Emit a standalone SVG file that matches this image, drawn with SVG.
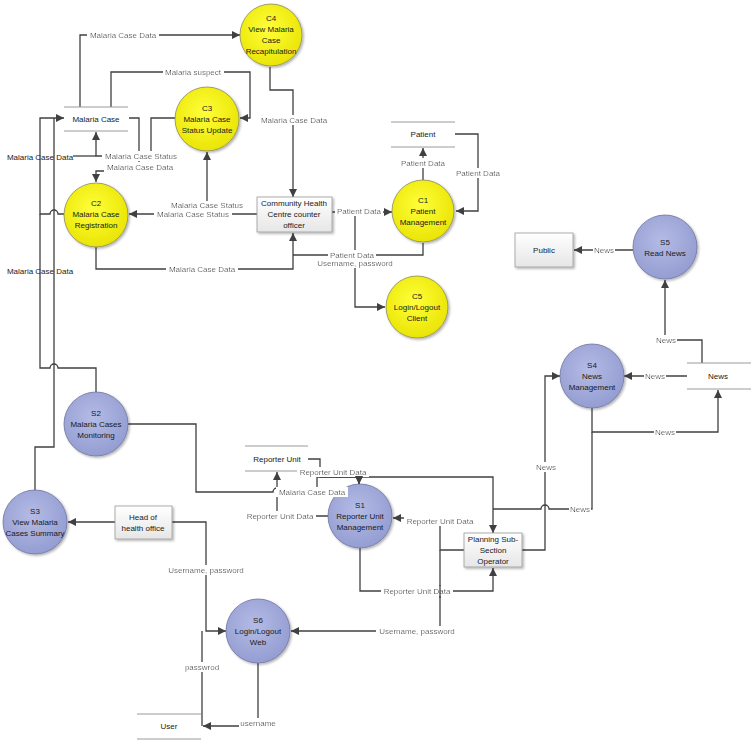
<svg xmlns="http://www.w3.org/2000/svg" width="755" height="744" viewBox="0 0 755 744">
<defs>
<radialGradient id="gy" cx="45%" cy="40%" r="65%"><stop offset="0" stop-color="#ffff3a"/><stop offset="1" stop-color="#e8e200"/></radialGradient>
<radialGradient id="gb" cx="45%" cy="40%" r="65%"><stop offset="0" stop-color="#b4bbe6"/><stop offset="1" stop-color="#929bd0"/></radialGradient>
<linearGradient id="gr" x1="0" y1="0" x2="0" y2="1"><stop offset="0" stop-color="#ffffff"/><stop offset="1" stop-color="#e6e6e6"/></linearGradient>
<filter id="sh" x="-20%" y="-20%" width="150%" height="150%"><feDropShadow dx="1.5" dy="1.5" stdDeviation="1.2" flood-color="#000" flood-opacity="0.3"/></filter>
<filter id="bg" x="-0.03" y="0.05" width="1.06" height="0.95"><feFlood flood-color="#ffffff"/><feComposite in="SourceGraphic"/></filter>
<marker id="ah" viewBox="0 0 10 10" refX="10" refY="5" markerWidth="9" markerHeight="8" markerUnits="userSpaceOnUse" orient="auto"><path d="M0,0 L10,5 L0,10 z" fill="#404040"/></marker>
</defs>
<style>
text{font-family:"Liberation Sans",Arial,sans-serif;font-size:8px;fill:#222;text-anchor:middle;dominant-baseline:central}
.c{fill:none;stroke:#404040;stroke-width:1.3}
.a{marker-end:url(#ah)}
.lb{filter:url(#bg)}
.y{fill:url(#gy);stroke:#8a8a60;stroke-width:0.8;filter:url(#sh)}
.b{fill:url(#gb);stroke:#6f75a0;stroke-width:0.8;filter:url(#sh)}
.r{fill:url(#gr);stroke:#9a9a9a;stroke-width:0.8;filter:url(#sh)}
.s{stroke:#9a9a9a;stroke-width:1}
.n{fill:#1a1a1a}
</style>
<rect width="755" height="744" fill="#ffffff"/>

<g id="connectors">
<path class="c a" d="M80,107 V35 H240"/>
<path class="c a" d="M111,107 V72 H250 V118 H240"/>
<path class="c a" d="M270,67 V90 H293 V197"/>
<path class="c a" d="M129,118 H139 V171 H96 V182"/>
<path class="c a" d="M176,118 H151 V156 H96 V132"/>
<path class="c" d="M96,156 H73"/>
<path class="c a" d="M257,214 H129"/>
<path class="c a" d="M207,214 V152"/>
<path class="c a" d="M96,247 V269 H293 V233"/>
<path class="c a" d="M332,212 H392"/>
<path class="c a" d="M355,212 V307 H385"/>
<path class="c" d="M423,243 V255 H293"/>
<path class="c a" d="M423,180 V148"/>
<path class="c a" d="M455,134 H478 V211 H456"/>
<path class="c a" d="M633,250 H574"/>
<path class="c a" d="M702,363 V340 H665 V280"/>
<path class="c a" d="M687,376 H624"/>
<path class="c a" d="M592,408 V432 H718 V390"/>
<path class="c" d="M592,432 V509 H549 A4,4 0 0 0 541,509 H493"/>
<path class="c a" d="M522,550 H545 V376 H560"/>
<path class="c a" d="M308,459 H320 V477 H359 V484"/>
<path class="c a" d="M128,424 H196 V492 H273 A4,4 0 0 1 281,492 H317 V477 H493 V533"/>
<path class="c a" d="M328,516 H277 V472"/>
<path class="c a" d="M464,550 H440 V518 H393"/>
<path class="c a" d="M440,550 V631 H291"/>
<path class="c a" d="M360,548 V591 H493 V568"/>
<path class="c a" d="M115,522 H68"/>
<path class="c a" d="M172,522 H206 V631 H226"/>
<path class="c" d="M202,726 V631"/>
<path class="c a" d="M258,663 V726 H203"/>
<path class="c a" d="M64,214 H58 A4,4 0 0 0 50,214 H40 V118 H64"/>
<path class="c" d="M96,392 V368 H58 A4,4 0 0 0 50,368 H40 V214"/>
<path class="c" d="M35,491 V447 H54 V118"/>
</g>

<g id="store-malaria-case">
<line class="s" x1="64" y1="107" x2="128" y2="107"/><line class="s" x1="64" y1="131" x2="128" y2="131"/>
<text x="96" y="119">Malaria Case</text>
</g>
<g id="store-patient">
<line class="s" x1="391" y1="122" x2="455" y2="122"/><line class="s" x1="391" y1="147" x2="455" y2="147"/>
<text x="423" y="134">Patient</text>
</g>
<g id="store-news">
<line class="s" x1="687" y1="363" x2="751" y2="363"/><line class="s" x1="687" y1="389" x2="751" y2="389"/>
<text x="718" y="376">News</text>
</g>
<g id="store-reporter-unit">
<line class="s" x1="245" y1="446" x2="308" y2="446"/><line class="s" x1="245" y1="471" x2="308" y2="471"/>
<text x="277" y="459">Reporter Unit</text>
</g>
<g id="store-user">
<line class="s" x1="137" y1="714" x2="201" y2="714"/><line class="s" x1="137" y1="739" x2="201" y2="739"/>
<text x="169" y="726">User</text>
</g>

<g id="C4"><circle class="y" cx="271" cy="35" r="31"/>
<text class="n" x="271" y="18">C4</text><text class="n" x="271" y="29">View Malaria</text><text class="n" x="271" y="40">Case</text><text class="n" x="271" y="51">Recapitulation</text></g>
<g id="C3"><circle class="y" cx="207" cy="119" r="32"/>
<text class="n" x="207" y="108">C3</text><text class="n" x="207" y="119">Malaria Case</text><text class="n" x="207" y="130">Status Update</text></g>
<g id="C2"><circle class="y" cx="96" cy="215" r="32"/>
<text class="n" x="96" y="203">C2</text><text class="n" x="96" y="214">Malaria Case</text><text class="n" x="96" y="225">Registration</text></g>
<g id="C1"><circle class="y" cx="423" cy="211" r="31"/>
<text class="n" x="423" y="200">C1</text><text class="n" x="423" y="211">Patient</text><text class="n" x="423" y="222">Management</text></g>
<g id="C5"><circle class="y" cx="417" cy="307" r="31"/>
<text class="n" x="417" y="296">C5</text><text class="n" x="417" y="307">Login/Logout</text><text class="n" x="417" y="318">Client</text></g>
<g id="S5"><circle class="b" cx="665" cy="247" r="32"/>
<text class="n" x="665" y="242">S5</text><text class="n" x="665" y="253">Read News</text></g>
<g id="S4"><circle class="b" cx="592" cy="376" r="32"/>
<text class="n" x="592" y="365">S4</text><text class="n" x="592" y="376">News</text><text class="n" x="592" y="387">Management</text></g>
<g id="S2"><circle class="b" cx="96" cy="424" r="32"/>
<text class="n" x="96" y="413">S2</text><text class="n" x="96" y="424">Malaria Cases</text><text class="n" x="96" y="435">Monitoring</text></g>
<g id="S3"><circle class="b" cx="35" cy="522" r="32"/>
<text class="n" x="35" y="511">S3</text><text class="n" x="35" y="522">View Malaria</text><text class="n" x="35" y="533">Cases Summary</text></g>
<g id="S1"><circle class="b" cx="360" cy="516" r="32"/>
<text class="n" x="360" y="505">S1</text><text class="n" x="360" y="516">Reporter Unit</text><text class="n" x="360" y="527">Management</text></g>
<g id="S6"><circle class="b" cx="258" cy="631" r="32"/>
<text class="n" x="258" y="620">S6</text><text class="n" x="258" y="631">Login/Logout</text><text class="n" x="258" y="642">Web</text></g>

<g id="CHC"><rect class="r" x="257" y="197" width="75" height="35"/>
<text class="n" x="294" y="203">Community Health</text><text class="n" x="294" y="214">Centre counter</text><text class="n" x="294" y="225">officer</text></g>
<g id="Public"><rect class="r" x="515" y="233" width="58" height="34"/>
<text class="n" x="544" y="250">Public</text></g>
<g id="HeadOffice"><rect class="r" x="115" y="506" width="57" height="33"/>
<text class="n" x="143" y="517">Head of</text><text class="n" x="143" y="528">health office</text></g>
<g id="Planning"><rect class="r" x="464" y="533" width="58" height="34"/>
<text class="n" x="493" y="539">Planning Sub-</text><text class="n" x="493" y="550">Section</text><text class="n" x="493" y="561">Operator</text></g>

<g id="connector-labels">
<text x="40" y="157">Malaria Case Data</text>
<text x="40" y="271">Malaria Case Data</text>
<text class="lb" x="123" y="35">Malaria Case Data</text>
<text class="lb" x="193" y="72">Malaria suspect</text>
<text class="lb" x="294" y="120">Malaria Case Data</text>
<text class="lb" x="141" y="156">Malaria Case Status</text>
<text class="lb" x="140" y="167">Malaria Case Data</text>
<text class="lb" x="207" y="205.5">Malaria Case Status</text>
<text class="lb" x="193" y="214.5">Malaria Case Status</text>
<text class="lb" x="202" y="269">Malaria Case Data</text>
<text class="lb" x="359" y="211">Patient Data</text>
<text class="lb" x="352" y="255">Patient Data</text>
<text class="lb" x="355" y="263.5">Username, password</text>
<text class="lb" x="423" y="163">Patient Data</text>
<text class="lb" x="478" y="173">Patient Data</text>
<text class="lb" x="604" y="250">News</text>
<text class="lb" x="666" y="340">News</text>
<text class="lb" x="655" y="376">News</text>
<text class="lb" x="665" y="432">News</text>
<text class="lb" x="580" y="509">News</text>
<text class="lb" x="546" y="467">News</text>
<text class="lb" x="333" y="472">Reporter Unit Data</text>
<text class="lb" x="312" y="492">Malaria Case Data</text>
<text class="lb" x="280" y="516">Reporter Unit Data</text>
<text class="lb" x="440" y="521">Reporter Unit Data</text>
<text class="lb" x="417" y="591">Reporter Unit Data</text>
<text class="lb" x="417" y="631">Username, password</text>
<text class="lb" x="206" y="570">Username, password</text>
<text class="lb" x="202" y="667">passwrod</text>
<text class="lb" x="258" y="723">username</text>
<path class="c" d="M440,585 V598"/>
<path class="c a" d="M359,477 V484"/>
</g>
</svg>
